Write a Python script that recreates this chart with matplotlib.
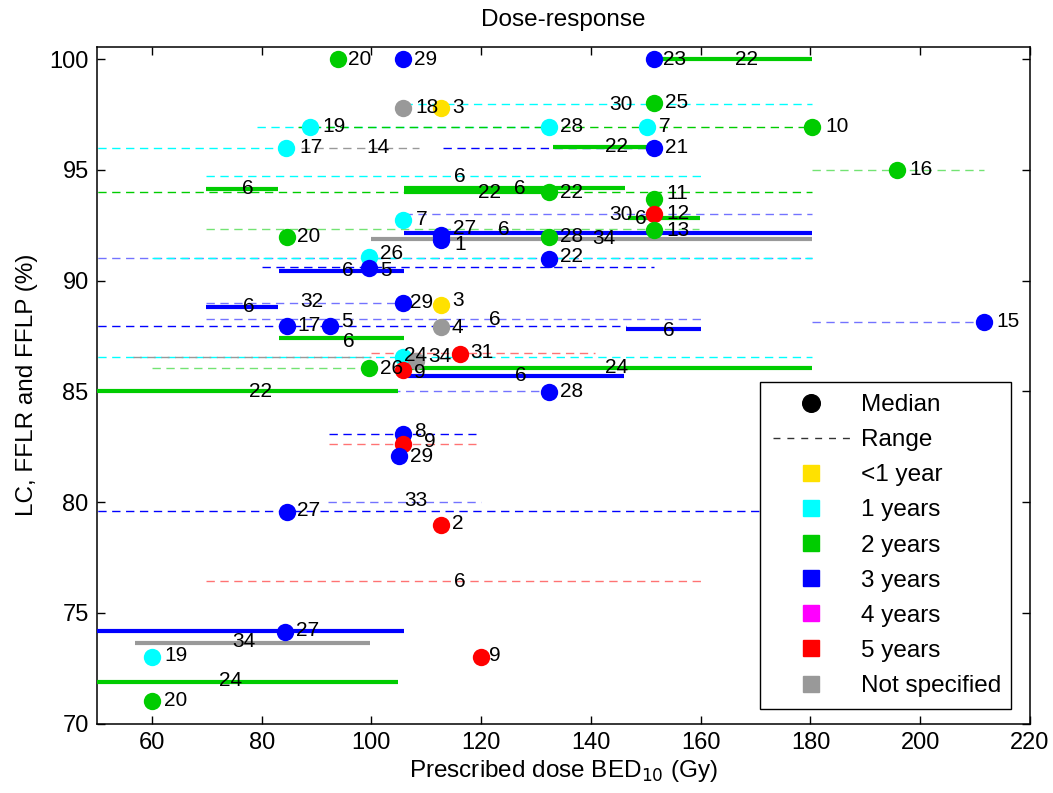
import matplotlib
matplotlib.use("Agg")
import matplotlib.pyplot as plt
from matplotlib.lines import Line2D

plt.rcParams['font.family'] = ['Liberation Sans', 'DejaVu Sans']

# ---------------- data ----------------
categories = ['<1 year', '1 years', '2 years', '3 years', '4 years', '5 years', 'Not specified']
cat_colors = ['#FFE100', '#00FFFF', '#00CC00', '#0000FF', '#FF00FF', '#FF0000', '#999999']
Y, C, G, B, M, R, N = range(7)

# medians: x (BED10, Gy), y (%), follow-up category
med_x = [93.9, 105.8, 151.5,
         105.8, 112.7, 151.5,
         88.9, 132.3, 150.2, 180.3,
         84.5, 151.5,
         195.8,
         132.4, 151.5, 151.5, 151.5,
         105.8, 84.55, 112.7, 112.7, 132.4,
         99.6, 132.4, 99.6,
         105.8, 112.7,
         84.55, 92.4, 112.7, 211.7,
         116.1, 105.7, 108.1, 99.6, 105.8,
         132.4,
         105.7, 105.8, 105.1,
         84.55, 112.7,
         84.2, 60.0, 119.9, 60.0]
med_y = [100.0, 100.0, 100.0,
         97.8, 97.8, 98.0,
         96.94, 96.94, 96.94, 96.94,
         96.0, 96.0,
         95.0,
         93.98, 93.68, 92.99, 92.28,
         92.73, 91.98, 92.05, 91.85, 91.95,
         91.08, 90.97, 90.55,
         89.0, 88.9,
         87.95, 87.95, 87.92, 88.13,
         86.68, 86.56, 86.37, 86.04, 85.96,
         84.98,
         83.07, 82.62, 82.09,
         79.56, 78.96,
         74.15, 73.02, 73.02, 71.03]
med_c = [G, B, B,
         N, Y, G,
         C, C, C, G,
         C, B,
         G,
         G, G, R, G,
         C, G, B, B, G,
         C, B, B,
         B, Y,
         B, B, N, B,
         R, C, N, G, R,
         B,
         B, R, B,
         B, R,
         B, C, R, G]

# ranges (dashed): start, end, y, category, faded
rng_x0 = [105.9, 79.2, 86.6, 45.0, 87.1, 113.0, 180.3, 69.9, 45.0, 105.9, 69.9, 45.0, 60.0,
          80.1, 69.9, 69.9, 45.0, 180.3, 99.9, 45.0, 56.6, 60.0, 96.1, 92.3, 92.3, 92.0, 45.0, 69.9]
rng_x1 = [180.3, 132.3, 180.3, 84.5, 108.7, 151.5, 211.7, 160.2, 180.3, 180.3, 159.6, 180.3, 180.3,
          151.4, 105.8, 160.2, 146.3, 211.7, 140.7, 180.3, 99.9, 99.6, 132.4, 119.1, 119.1, 120.0, 200.0, 160.2]
rng_y = [97.97, 96.94, 96.94, 96.0, 96.0, 96.0, 95.0, 94.72, 93.98, 92.99, 92.31, 91.0, 91.0,
         90.62, 89.0, 88.25, 87.96, 88.15, 86.71, 86.53, 86.53, 86.04, 85.0, 83.07, 82.62, 80.01, 79.59, 76.43]
rng_c = [C, C, G, C, N, B, G, C, G, B, G, B, C,
         B, B, B, B, B, R, C, N, G, B, B, R, B, B, R]
rng_faded = [0, 0, 0, 0, 0, 0, 1, 0, 0, 1, 1, 1, 0,
             0, 1, 1, 0, 1, 1, 0, 0, 1, 1, 0, 1, 1, 0, 1]

# dose ranges without median (solid): start, end, y, category
bar_x0 = [152.9, 133.1, 69.9, 105.9, 105.9, 146.8, 105.9, 99.9, 83.1, 69.9, 146.3, 83.1,
          106.6, 106.6, 45.0, 45.0, 56.9, 45.0]
bar_x1 = [180.3, 151.5, 83.0, 132.3, 146.2, 159.9, 180.3, 180.3, 106.0, 83.0, 160.1, 106.0,
          180.3, 146.1, 104.9, 106.0, 99.8, 104.9]
bar_y = [100.0, 96.04, 94.16, 94.0, 94.18, 92.81, 92.13, 91.86, 90.44, 88.82, 87.81, 87.39,
         86.04, 85.7, 85.01, 74.18, 73.65, 71.89]
bar_c = [G, G, G, G, G, G, B, N, B, B, B, G,
         G, B, G, B, N, G]

# study reference labels
lab_text = ["20", "29", "23", "22", "18", "3", "30", "25", "19", "28", "7", "10",
            "17", "14", "22", "21", "16", "6", "6", "22", "6", "22", "11", "30", "6", "12",
            "7", "13", "20", "27", "1", "6", "28", "34", "26", "22", "6", "5", "6", "32", "29",
            "3", "6", "17", "5", "4", "6", "15", "6", "24", "34", "31", "26", "9", "24", "6",
            "22", "28", "8", "9", "29", "33", "27", "2", "6", "27", "34", "19", "9", "24", "20"]
lab_x = [95.75, 107.8, 153.2, 166.3, 108.1, 114.7, 143.3, 153.5, 91.1, 134.3, 152.4, 182.7,
         86.8, 99.0, 142.5, 153.5, 198.0, 115.1, 76.45, 119.4, 126.05, 134.3, 153.8, 143.4, 148.0, 153.8,
         108.1, 153.8, 86.5, 114.8, 115.1, 123.05, 134.3, 140.3, 101.6, 134.3, 94.7, 101.6, 76.6, 87.0, 107.1,
         114.65, 121.4, 86.5, 94.4, 114.65, 153.2, 213.9, 94.8, 106.0, 110.3, 118.1, 101.6, 107.8, 142.6, 126.1,
         77.66, 134.3, 107.8, 109.65, 107.1, 106.0, 86.5, 114.65, 115.1, 86.2, 74.6, 62.25, 121.5, 72.2, 62.25]
lab_y = [100.0, 100.0, 100.0, 100.0, 97.8, 97.8, 97.97, 98.05, 96.94, 96.94, 96.94, 96.94,
         96.0, 96.0, 96.04, 96.0, 95.0, 94.72, 94.16, 93.98, 94.18, 93.98, 93.94, 93.0, 92.81, 93.03,
         92.77, 92.28, 91.98, 92.36, 91.65, 92.31, 91.98, 91.9, 91.23, 91.08, 90.44, 90.44, 88.82, 89.04, 89.0,
         89.09, 88.25, 87.96, 88.14, 87.89, 87.77, 88.17, 87.24, 86.64, 86.56, 86.74, 86.04, 85.84, 86.08, 85.73,
         85.01, 85.01, 83.17, 82.72, 82.08, 80.09, 79.64, 79.01, 76.43, 74.19, 73.69, 73.05, 73.05, 71.96, 71.06]

x_ticks = [60, 80, 100, 120, 140, 160, 180, 200, 220]
y_ticks = [70, 75, 80, 85, 90, 95, 100]

# ---------------- figure ----------------
fig = plt.figure(figsize=(10.53, 7.93), dpi=100)
ax = fig.add_axes([97 / 1053, 1 - 723.5 / 793, 933 / 1053, 676.5 / 793])

for x0, x1, y, c, f in zip(rng_x0, rng_x1, rng_y, rng_c, rng_faded):
    ax.plot([x0, x1], [y, y], color=cat_colors[c], lw=1.0, dashes=(6, 4),
            alpha=0.55 if f else 1.0, zorder=2)

for x0, x1, y, c in zip(bar_x0, bar_x1, bar_y, bar_c):
    ax.plot([x0, x1], [y, y], color=cat_colors[c], lw=3.0, solid_capstyle='butt', zorder=3)

for x, y, c in zip(med_x, med_y, med_c):
    ax.plot(x, y, 'o', ms=12.5, mfc=cat_colors[c], mec=cat_colors[c], mew=0, zorder=4,
            clip_on=False)

for t, x, y in zip(lab_text, lab_x, lab_y):
    ax.text(x, y, t, fontsize=15, ha='left', va='center', color='black', zorder=5)

ax.set_xlim(50, 220)
ax.set_ylim(70, 100.55)
ax.set_xticks(x_ticks)
ax.set_yticks(y_ticks)
ax.tick_params(direction='in', length=6, width=1, top=True, right=True,
               labelsize=17, pad=6)
for s in ax.spines.values():
    s.set_linewidth(1.1)

ax.set_title('Dose-response', fontsize=17.5, pad=15)
ax.set_xlabel('Prescribed dose BED$_{10}$ (Gy)', fontsize=17.5, labelpad=3)
ax.set_ylabel('LC, FFLR and FFLP (%)', fontsize=17.5, labelpad=8)

handles = [Line2D([], [], marker='o', ls='none', color='k', ms=12.7),
           Line2D([], [], color='#333333', lw=1.0, dashes=(5, 5))]
handles += [Line2D([], [], marker='s', ls='none', mfc=c, mec=c, ms=11.3) for c in cat_colors]
leg = ax.legend(handles, ['Median', 'Range'] + categories,
                loc='upper left', bbox_to_anchor=(0.711, 0.505, 0.269, 0.0),
                mode='expand', borderaxespad=0, fontsize=17.5,
                handlelength=3.2, handletextpad=0.45, labelspacing=0.54, borderpad=0.5,
                fancybox=False, framealpha=1, edgecolor='black')
leg.get_frame().set_linewidth(1.0)
leg.set_zorder(10)

fig.savefig('out.png', dpi=100)
